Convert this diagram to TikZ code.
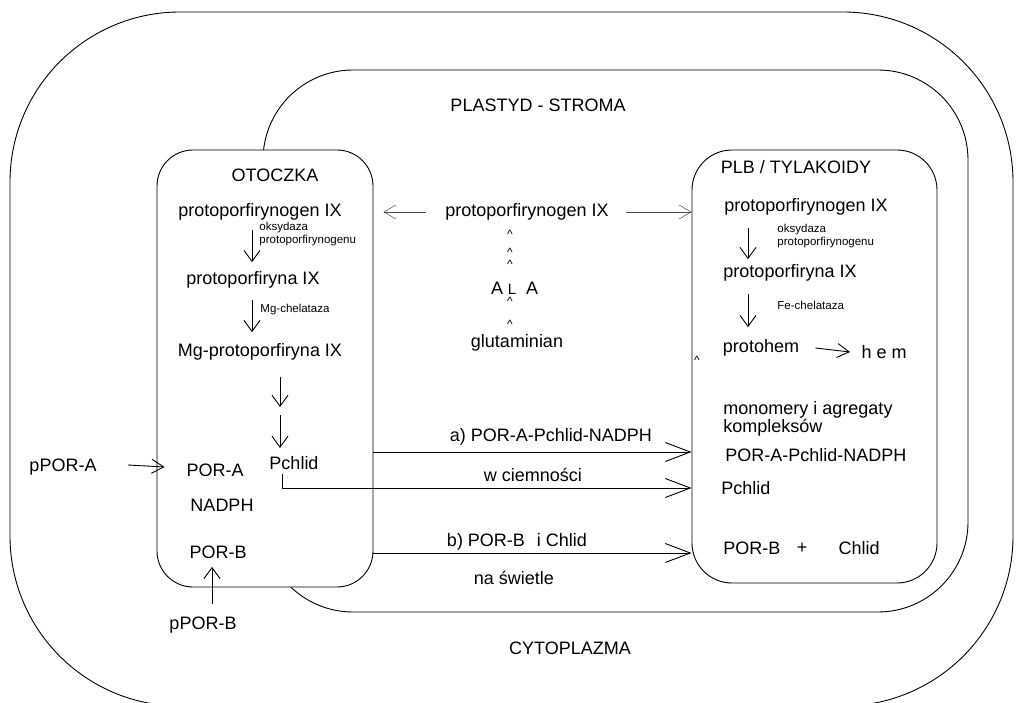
\documentclass[tikz,border=0pt]{standalone}
\usepackage{fontspec}
\setmainfont{Liberation Sans}
\usetikzlibrary{arrows.meta,calc}
\begin{document}
\begin{tikzpicture}[x=1pt,y=-1pt,line width=0.9pt,
  lbl/.style={inner sep=0pt,font=\fontsize{18}{18}\selectfont},
  sm/.style={inner sep=0pt,anchor=west,align=left,font=\fontsize{11.5}{13}\selectfont},
  car/.style={inner sep=0pt,font=\fontsize{12}{12}\selectfont},
  vtip/.style={-{Straight Barb[length=11pt,width=16pt]}},
  htip/.style={-{Straight Barb[length=12pt,width=14pt]}},
  btip/.style={-{Straight Barb[length=25pt,width=19pt]}},
  thinarr/.style={line width=0.5pt,draw=black!70}]
\useasboundingbox (0,0) rectangle (1016,703);
\clip (0,0) rectangle (1016,703);
% membranes
\draw[rounded corners=170pt] (10,12) rectangle (1013,706);
\draw[rounded corners=90pt] (263,70) rectangle (968,612);
\node[draw,fill=white,rounded corners=36pt,minimum width=216pt,minimum height=437pt,inner sep=0pt] (otbox) at (265,368.5) {};
\node[draw,fill=white,rounded corners=40pt,minimum width=245pt,minimum height=433pt,inner sep=0pt] (plbbox) at (814.5,366.5) {};
% region titles
\node[lbl] (stroma) at (538,105) {PLASTYD - STROMA};
\node[lbl] (cyto) at (570,648) {CYTOPLAZMA};
\node[lbl] (otl) at (275,175) {OTOCZKA};
\node[lbl] (plbl) at (796,167) {PLB / TYLAKOIDY};
% left column (otoczka)
\node[lbl] (l1) at (260,212) {protoporfirynogen IX};
\node[sm] (e1) at (259,234) {oksydaza\\protoporfirynogenu};
\node[lbl] (l2) at (253,280) {protoporfiryna IX};
\node[sm] (e2) at (260,310) {Mg-chelataza};
\node[lbl] (l3) at (260,352) {Mg-protoporfiryna IX};
\coordinate (mid) at (280,411);
\node[lbl] (pchl) at (294,463) {Pchlid};
\node[lbl] (pora) at (215,470) {POR-A};
\node[lbl] (nadph) at (222,505) {NADPH};
\node[lbl] (porb) at (218,552) {POR-B};
\node[lbl] (pporb) at (203,625) {pPOR-B};
\node[lbl] (ppora) at (63,467) {pPOR-A};
\draw[vtip] ([shift={(-8,9)}]l1.south) -- ([shift={(-1,-9)}]l2.north);
\draw[vtip] ([shift={(-1,11)}]l2.south) -- ([shift={(-8,-11)}]l3.north);
\draw[vtip] ([shift={(20,16)}]l3.south) -- ([shift={(0,-4)}]mid);
\draw[vtip] ([shift={(0,4)}]mid) -- ([shift={(-14,-8)}]pchl.north);
\draw[vtip] ([shift={(9,-12)}]pporb.north) -- ([shift={(-6,8)}]porb.south);
\draw[htip] ([shift={(31,-2)}]ppora.east) -- ([xshift=8pt]otbox.west |- ppora.east);
% centre (stroma)
\node[lbl] (c1) at (527,212) {protoporfirynogen IX};
\node[car] (k1) at (510,234) {\textasciicircum};
\node[car] (k2) at (510,252) {\textasciicircum};
\node[car] (k3) at (510,264) {\textasciicircum};
\node[lbl] (a1) at (497,288) {A};
\node[lbl,font=\fontsize{15}{15}\selectfont] (lL) at (512,289) {L};
\node[lbl] (a2) at (532,288) {A};
\node[car] (k4) at (510,301) {\textasciicircum};
\node[car] (k5) at (510,324) {\textasciicircum};
\node[lbl] (glu) at (517,343) {glutaminian};
\draw[htip,thinarr] ([xshift=-19pt]c1.west) -- ([xshift=10pt]otbox.east |- c1.west);
\draw[htip,thinarr] ([xshift=17pt]c1.east) -- (plbbox.west |- c1.east);
% right column (PLB)
\node[lbl] (r1) at (806,207) {protoporfirynogen IX};
\node[sm] (e3) at (777,236.5) {oksydaza\\protoporfirynogenu};
\node[lbl] (r2) at (790,273) {protoporfiryna IX};
\node[sm] (e4) at (777,305) {Fe-chelataza};
\node[lbl] (ph) at (761,348) {protohem};
\node[lbl] (hem) at (884,352) {h e m};
\node[car] (k6) at (697,360) {\textasciicircum};
\draw[vtip] ([shift={(-58,12)}]r1.south) -- ([shift={(-42,-5)}]r2.north);
\draw[vtip] ([shift={(-42,12)}]r2.south) -- ([shift={(-13,-12)}]ph.north);
\draw[htip] ([xshift=16pt]ph.east) -- ([xshift=-11pt]hem.west);
\node[lbl,anchor=west,align=left] (mono) at (723,419) {monomery i agregaty\\kompleksów};
\node[lbl,anchor=west] (rcx) at (725,455) {POR-A-Pchlid-NADPH};
\node[lbl,anchor=west] (rpch) at (721,488) {Pchlid};
\node[lbl,anchor=west] (rporb) at (723,548) {POR-B};
\node[lbl] (plus) at (802,548) {+};
\node[lbl] (chlid) at (859,548) {Chlid};
% transfer arrows
\coordinate (ya) at (0,452);
\coordinate (yc) at (0,488);
\coordinate (yb) at (0,553);
\coordinate (pcx) at (282,0);
\node[lbl] (alab) at (551,437) {a) POR-A-Pchlid-NADPH};
\node[lbl] (wlab) at (533,475) {w ciemności};
\node[lbl] (blab) at (517,542) {b) POR-B\hspace{12pt}i Chlid};
\node[lbl] (nlab) at (514,578) {na świetle};
\draw[btip] (otbox.east |- ya) -- (plbbox.west |- ya);
\draw[btip] ([yshift=-4pt]pcx |- pchl.south) -- (pcx |- yc) -- (plbbox.west |- yc);
\draw[btip] (otbox.east |- yb) -- (plbbox.west |- yb);
\end{tikzpicture}
\end{document}
